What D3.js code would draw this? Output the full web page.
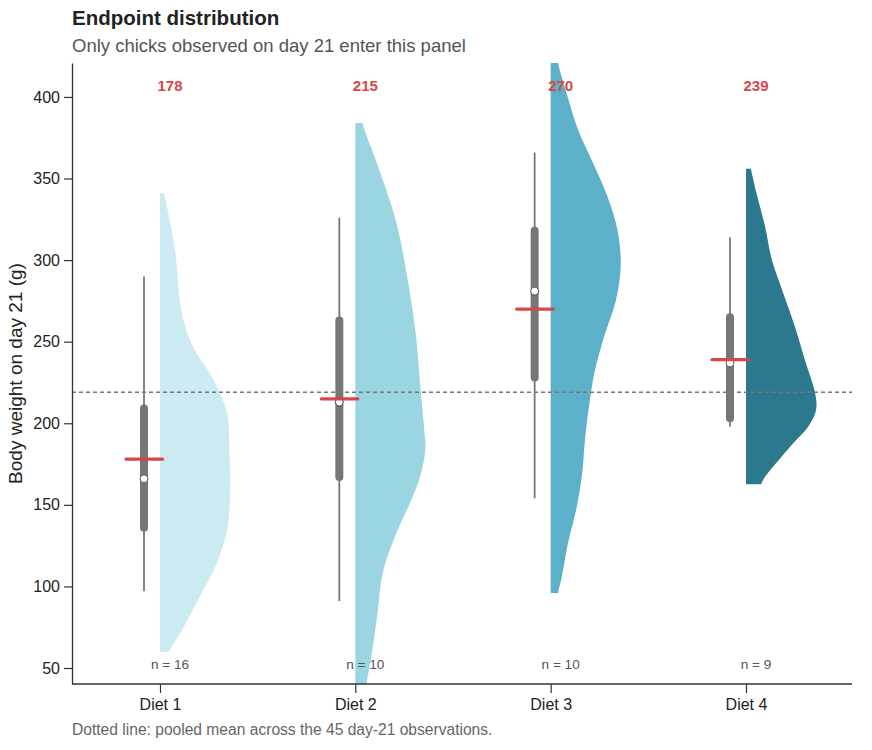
<!DOCTYPE html>
<html>
<head>
<meta charset="utf-8">
<script src="https://cdn.jsdelivr.net/npm/d3@7.9.0/dist/d3.min.js"></script>
<style>
  body { margin: 0; background: #fff; }
  svg { font-family: "Liberation Sans", Arial, sans-serif; display: block; }
</style>
</head>
<body>
<div id="chart"></div>
<script>
// values
const diets = ['Diet 1', 'Diet 2', 'Diet 3', 'Diet 4'];
const means = [178, 215, 270, 239];
const counts = [16, 10, 10, 9];
const medians = [166, 213, 281, 237];
const q1 = [136, 167, 228, 203];
const q3 = [209, 263, 318, 265];
const whiskerLow = [97, 91, 154, 198];
const whiskerHigh = [290, 326, 366, 314];
const pooledMean = 219;
const fills = ['#cbeaf1', '#9bd5e2', '#5cb0ca', '#2b788f'];

// half-violin outlines: [weight, relative density]
const density1 = [[341, 0.06], [308, 0.21], [268, 0.31], [247, 0.47], [227, 0.76], [206, 0.96],
  [186, 0.99], [155, 1.0], [135, 0.96], [114, 0.81], [94, 0.57], [73, 0.31], [61, 0.14], [60, 0.13]];
const density2 = [[384, 0.11], [383, 0.11], [358, 0.32], [324, 0.58], [290, 0.74], [256, 0.86], [222, 0.93],
  [198, 0.98], [184, 1.0], [168, 0.93], [154, 0.81], [131, 0.57], [108, 0.39], [85, 0.32], [63, 0.25], [40, 0.16], [30, 0.13]];
const density3 = [[430, 0.08], [420, 0.11], [402, 0.23], [380, 0.39], [359, 0.61], [338, 0.82], [317, 0.96],
  [296, 1.0], [275, 0.93], [254, 0.77], [232, 0.63], [211, 0.55], [190, 0.49], [169, 0.45],
  [148, 0.37], [127, 0.25], [106, 0.16], [97, 0.11], [96, 0.11]];
const density4 = [[356, 0.07], [341, 0.15], [321, 0.27], [300, 0.37], [280, 0.53], [259, 0.70], [239, 0.84],
  [218, 0.99], [208, 1.0], [198, 0.89], [188, 0.68], [177, 0.46], [167, 0.27], [163, 0.22], [162.7, 0.22]];
const densities = [density1, density2, density3, density4];

const width = 872;
const height = 750;
const margin = { top: 63, right: 20, bottom: 66, left: 72 };

const svg = d3.select('#chart')
  .append('svg')
  .attr('width', width)
  .attr('height', height)
  .attr('viewBox', [0, 0, width, height]);

const x = d3.scalePoint()
  .domain(diets)
  .range([160, 746]);

const y = d3.scaleLinear()
  .domain([40.2, 420.8])
  .range([height - margin.bottom, margin.top]);

const w = d3.scaleLinear().domain([0, 1]).range([0, 70]);

svg.append('clipPath')
  .attr('id', 'plot-clip')
  .append('rect')
  .attr('x', margin.left)
  .attr('y', margin.top)
  .attr('width', width - margin.left - margin.right)
  .attr('height', height - margin.top - margin.bottom);

// titles
svg.append('text')
  .attr('x', margin.left)
  .attr('y', 25)
  .attr('font-size', 20.5)
  .attr('font-weight', 'bold')
  .attr('fill', '#222')
  .text('Endpoint distribution');

svg.append('text')
  .attr('x', margin.left)
  .attr('y', 52)
  .attr('font-size', 18.5)
  .attr('fill', '#555')
  .text('Only chicks observed on day 21 enter this panel');

// violins
const plot = svg.append('g').attr('clip-path', 'url(#plot-clip)');

diets.forEach((d, i) => {
  const xc = x(d);
  const area = d3.area()
    .x0(xc)
    .x1((p) => xc + w(p[1]))
    .y((p) => y(p[0]))
    .curve(d3.curveCatmullRom);
  plot.append('path')
    .datum(densities[i])
    .attr('d', area)
    .attr('fill', fills[i]);
});

// pooled mean
plot.append('line')
  .attr('x1', margin.left)
  .attr('x2', width - margin.right)
  .attr('y1', y(pooledMean))
  .attr('y2', y(pooledMean))
  .attr('stroke', '#777')
  .attr('stroke-width', 1.3)
  .attr('stroke-dasharray', '4,3');

// box plots
const boxOffset = -16;
const boxes = plot.append('g')
  .selectAll('g')
  .data(diets)
  .join('g')
  .attr('transform', (d) => `translate(${x(d) + boxOffset},0)`);

boxes.append('line')
  .attr('y1', (d, i) => y(whiskerLow[i]))
  .attr('y2', (d, i) => y(whiskerHigh[i]))
  .attr('stroke', '#777')
  .attr('stroke-width', 1.8);

boxes.append('line')
  .attr('y1', (d, i) => y(q1[i]))
  .attr('y2', (d, i) => y(q3[i]))
  .attr('stroke', '#767676')
  .attr('stroke-width', 8)
  .attr('stroke-linecap', 'round');

boxes.append('circle')
  .attr('cy', (d, i) => y(medians[i]))
  .attr('r', 4)
  .attr('fill', '#fff')
  .attr('stroke', '#333')
  .attr('stroke-width', 0.8);

boxes.append('line')
  .attr('x1', -18)
  .attr('x2', 18.5)
  .attr('y1', (d, i) => y(means[i]))
  .attr('y2', (d, i) => y(means[i]))
  .attr('stroke', '#d9464a')
  .attr('stroke-width', 3.2)
  .attr('stroke-linecap', 'round');

// mean labels and counts
svg.append('g')
  .selectAll('text')
  .data(diets)
  .join('text')
  .attr('x', (d) => x(d) + 10)
  .attr('y', 91)
  .attr('text-anchor', 'middle')
  .attr('font-size', 15)
  .attr('font-weight', 'bold')
  .attr('fill', '#d9464a')
  .text((d, i) => means[i]);

svg.append('g')
  .selectAll('text')
  .data(diets)
  .join('text')
  .attr('x', (d) => x(d) + 10)
  .attr('y', 669)
  .attr('text-anchor', 'middle')
  .attr('font-size', 13.6)
  .attr('fill', '#555')
  .text((d, i) => `n = ${counts[i]}`);

// axes
const yAxis = svg.append('g')
  .attr('transform', `translate(${margin.left},0)`)
  .call(d3.axisLeft(y).tickValues([50, 100, 150, 200, 250, 300, 350, 400]).tickSize(8).tickPadding(4).tickSizeOuter(0));

const xAxis = svg.append('g')
  .attr('transform', `translate(0,${height - margin.bottom})`)
  .call(d3.axisBottom(x).tickSize(9).tickPadding(6).tickSizeOuter(0));

xAxis.select('.domain').attr('d', `M${margin.left},0H${width - margin.right}`);

[xAxis, yAxis].forEach((g) => {
  g.select('.domain').attr('stroke', '#333').attr('stroke-width', 1.3);
  g.selectAll('.tick line').attr('stroke', '#333').attr('stroke-width', 1.2);
  g.selectAll('.tick text')
    .attr('font-family', '"Liberation Sans", Arial, sans-serif')
    .attr('font-size', 16)
    .attr('fill', '#222');
});

svg.append('text')
  .attr('transform', 'rotate(-90)')
  .attr('x', -(margin.top + (height - margin.bottom)) / 2)
  .attr('y', 22)
  .attr('text-anchor', 'middle')
  .attr('font-size', 19)
  .attr('fill', '#222')
  .text('Body weight on day 21 (g)');

svg.append('text')
  .attr('x', margin.left)
  .attr('y', 735)
  .attr('font-size', 15.6)
  .attr('fill', '#666')
  .text('Dotted line: pooled mean across the 45 day-21 observations.');
</script>
</body>
</html>
